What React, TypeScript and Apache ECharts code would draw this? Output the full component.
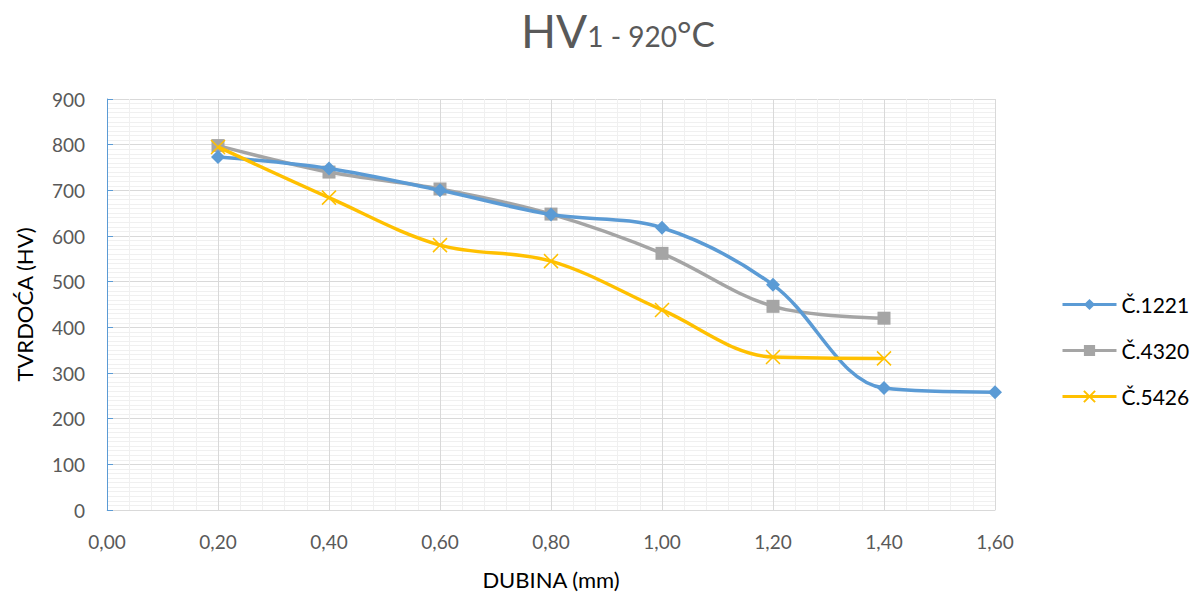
import React, { useEffect, useRef } from "react";
import * as echarts from "echarts";

const depths = [0.2, 0.4, 0.6, 0.8, 1.0, 1.2, 1.4, 1.6];
const s1221 = [773, 748, 700, 647, 618, 493, 267, 258];
const s4320 = [798, 740, 703, 648, 562, 446, 420];
const s5426 = [795, 684, 580, 545, 438, 335, 332];
const seriesNames = ["Č.1221", "Č.4320", "Č.5426"];
const colors = ["#5B9BD5", "#A5A5A5", "#FFC000"];

const FONT = "Lato, 'Open Sans', sans-serif";
const crossPath = "path://M0,0L10,10M10,0L0,10";

function pairs(vals: number[]) {
  return vals.map((v, i) => [depths[i], v]);
}

export default function App() {
  const ref = useRef<HTMLDivElement>(null);
  useEffect(() => {
    const chart = echarts.init(ref.current!, null, { renderer: "svg" });
    chart.setOption({
      animation: false,
      backgroundColor: "#ffffff",
      title: {
        text: "{a|HV}{b|1 - 920}{c|°C}",
        left: 516,
        top: 2,
        textStyle: {
          rich: {
            a: { fontSize: 46, color: "#595959", fontFamily: FONT, fontWeight: "normal" },
            b: { fontSize: 28, color: "#595959", fontFamily: FONT, fontWeight: "normal", padding: [12, 0, 0, 0] },
            c: { fontSize: 35, color: "#595959", fontFamily: FONT, fontWeight: "normal", padding: [6, 0, 0, 0] },
          },
        },
      },
      grid: { left: 107, right: 205, top: 99, bottom: 84, containLabel: false },
      legend: {
        orient: "vertical",
        left: 1056,
        top: 289,
        itemWidth: 54,
        itemHeight: 14,
        itemGap: 25,
        textStyle: { fontSize: 21, color: "#000", fontFamily: FONT },
        lineStyle: { width: 3 },
        data: seriesNames,
      },
      xAxis: {
        type: "value",
        min: 0,
        max: 1.6,
        interval: 0.2,
        name: "DUBINA (mm)",
        nameLocation: "middle",
        nameGap: 58,
        nameTextStyle: { fontSize: 22, color: "#000", fontFamily: FONT },
        axisLine: { show: true, lineStyle: { color: "#D9D9D9", width: 1 } },
        axisTick: { show: false },
        axisLabel: {
          fontSize: 19,
          color: "#595959",
          fontFamily: FONT,
          margin: 22,
          formatter: (v: number) => v.toFixed(2).replace(".", ","),
        },
        splitLine: { show: true, lineStyle: { color: "#D9D9D9", width: 1 } },
        minorTick: { show: false, splitNumber: 5 },
        minorSplitLine: { show: true, lineStyle: { color: "#F0F0F0", width: 1 } },
      },
      yAxis: {
        type: "value",
        min: 0,
        max: 900,
        interval: 100,
        name: "TVRDOĆA (HV)",
        nameLocation: "middle",
        nameGap: 72,
        nameTextStyle: { fontSize: 22, color: "#000", fontFamily: FONT },
        axisLine: { show: true, lineStyle: { color: "#5B9BD5", width: 1 } },
        axisTick: { show: true, inside: true, length: 6, lineStyle: { color: "#5B9BD5" } },
        axisLabel: { fontSize: 19, color: "#595959", fontFamily: FONT, margin: 22 },
        splitLine: { show: true, lineStyle: { color: "#D9D9D9", width: 1 } },
        minorTick: { show: false, splitNumber: 10 },
        minorSplitLine: { show: true, lineStyle: { color: "#F0F0F0", width: 1 } },
      },
      series: [
        {
          name: seriesNames[0],
          type: "line",
          data: pairs(s1221),
          smooth: 0.35,
          symbol: "diamond",
          symbolSize: 14,
          lineStyle: { width: 3.5, color: colors[0] },
          itemStyle: { color: colors[0] },
          z: 3,
        },
        {
          name: seriesNames[1],
          type: "line",
          data: pairs(s4320),
          smooth: 0.35,
          symbol: "rect",
          symbolSize: 13,
          lineStyle: { width: 3.5, color: colors[1] },
          itemStyle: { color: colors[1] },
          z: 2,
        },
        {
          name: seriesNames[2],
          type: "line",
          data: pairs(s5426),
          smooth: 0.35,
          symbol: crossPath,
          symbolSize: 14,
          lineStyle: { width: 3.5, color: colors[2] },
          itemStyle: { color: colors[2], borderColor: colors[2], borderWidth: 1.5 },
          z: 4,
        },
      ],
    });
    return () => chart.dispose();
  }, []);
  return <div ref={ref} style={{ width: 1200, height: 595, position: "absolute", left: 0, top: 0 }} />;
}
